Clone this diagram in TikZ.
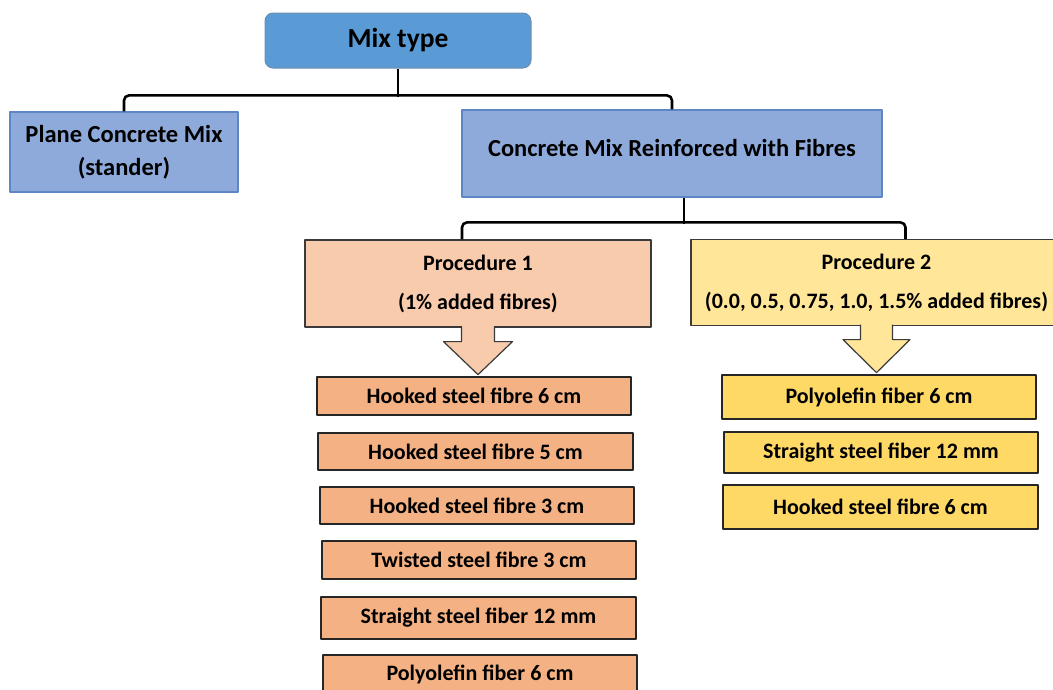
\documentclass[tikz,border=0pt]{standalone}
\usepackage{fontspec}
\setmainfont{Carlito}
\definecolor{mixblue}{HTML}{5B9BD5}
\definecolor{mixedge}{HTML}{6F8FB0}
\definecolor{typeblue}{HTML}{8EAADB}
\definecolor{typeedge}{HTML}{5E86C4}
\definecolor{procone}{HTML}{F8CBAD}
\definecolor{proctwo}{HTML}{FFE699}
\definecolor{fibone}{HTML}{F4B183}
\definecolor{fibtwo}{HTML}{FFD966}
\definecolor{edgegray}{HTML}{3A3A3A}

\begin{document}
\begin{tikzpicture}[x=1pt,y=-1pt,line join=round,font=\bfseries]
	\tikzstyle{top}=[draw=mixedge,fill=mixblue,rounded corners=8pt,line width=1pt,inner sep=0pt,font=\fontsize{27.5}{30}\selectfont\bfseries];
	\tikzstyle{kind}=[draw=typeedge,fill=typeblue,line width=1.2pt,inner sep=0pt,align=center,font=\fontsize{24.5}{33}\selectfont\bfseries];
	\tikzstyle{proc}=[draw=edgegray,line width=1.2pt,inner sep=0pt,align=center,font=\fontsize{22}{39}\selectfont\bfseries];
	\tikzstyle{fib}=[draw=black!85,line width=1.6pt,inner sep=0pt,font=\fontsize{22}{24}\selectfont\bfseries];
	\tikzstyle{conn}=[line width=2.6pt,rounded corners=5pt];
	\tikzstyle{blk}=[draw=edgegray,line width=1.2pt];
	%% page
	\fill[white] (0,0) rectangle (1053,689);
	\useasboundingbox (0,0) rectangle (1053,689);
	%% tree
	\node[top,minimum width=266,minimum height=55] (mix) at (398,40.5) {Mix type};
	\node[kind,minimum width=228,minimum height=80] (plain) at (124,152) {Plane Concrete Mix\\(stander)};
	\node[kind,minimum width=420,minimum height=87,text depth=12pt] (fibre) at (672,153.5) {Concrete Mix Reinforced with Fibres};
	\node[proc,fill=procone,minimum width=346,minimum height=87] (pA) at (478,283.5) {Procedure 1\\(1\% added fibres)};
	\node[proc,fill=proctwo,minimum width=371,minimum height=86] (pB) at (876.5,282.5) {Procedure 2\\(0.0, 0.5, 0.75, 1.0, 1.5\% added fibres)};
	\draw[conn] (plain.north) -- ++(0,-16) -| (fibre.north);
	\draw[conn] (mix.south) -- ++(0,28);
	\draw[conn] ([xshift=-16pt]pA.north) -- ++(0,-17) -| ([xshift=29pt]pB.north);
	\draw[conn] ([xshift=12pt]fibre.south) -- ++(0,26);
	%% procedure 1 list
	\node[fib,fill=fibone,minimum width=314,minimum height=38] (a1) at (474,396)   {Hooked steel fibre 6 cm};
	\node[fib,fill=fibone,minimum width=315,minimum height=37] (a2) at (475.5,451.5) {Hooked steel fibre 5 cm};
	\node[fib,fill=fibone,minimum width=314,minimum height=37] (a3) at (477,505.5) {Hooked steel fibre 3 cm};
	\node[fib,fill=fibone,minimum width=314,minimum height=38] (a4) at (479,560)   {Twisted steel fibre 3 cm};
	\node[fib,fill=fibone,minimum width=315,minimum height=42] (a5) at (478.5,618) {Straight steel fiber 12 mm};
	\node[fib,fill=fibone,minimum width=314,minimum height=38] (a6) at (480,674)   {Polyolefin fiber 6 cm};
	%% procedure 2 list
	\node[fib,fill=fibtwo,minimum width=314,minimum height=44] (b1) at (879,397)   {Polyolefin fiber 6 cm};
	\node[fib,fill=fibtwo,minimum width=314,minimum height=41] (b2) at (881,452.5) {Straight steel fiber 12 mm};
	\node[fib,fill=fibtwo,minimum width=315,minimum height=44] (b3) at (880.5,507) {Hooked steel fibre 6 cm};
	%% block arrows
	\filldraw[blk,fill=procone] ([xshift=-16.5pt,yshift=1.5pt]pA.south) -- ++(0,15.5) -- ++(-18,0) -- ++(34.5,33) -- ++(34.5,-33) -- ++(-18,0) -- ++(0,-15.5);
	\filldraw[blk,fill=proctwo] ([xshift=-16pt,yshift=1.5pt]pB.south) -- ++(0,15) -- ++(-17.5,0) -- ++(33.5,33) -- ++(33.5,-33) -- ++(-17.5,0) -- ++(0,-15);
\end{tikzpicture}
\end{document}
